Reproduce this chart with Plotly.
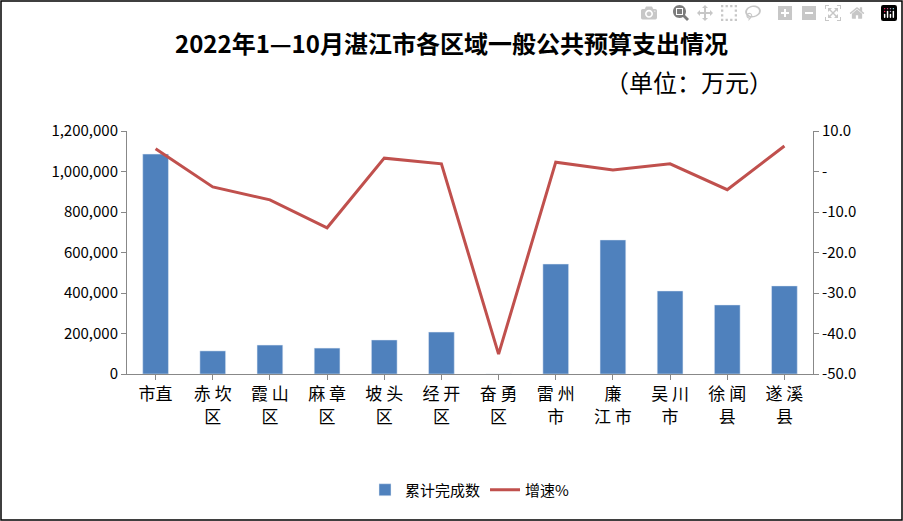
import plotly.graph_objects as go

categories = ["市直", "赤 坎<br>区", "霞 山<br>区", "麻 章<br>区", "坡 头<br>区", "经 开<br>区",
              "奋 勇<br>区", "雷 州<br>市", "廉<br>江 市", "吴 川<br>市", "徐 闻<br>县", "遂 溪<br>县"]
cumulative = [1086000, 114000, 143000, 128000, 168000, 207000, 0, 543000, 662000, 410000, 341000, 435000]
growth = [5.6, -3.8, -7.0, -13.9, 3.3, 1.9, -45.1, 2.3, 0.4, 1.9, -4.5, 6.3]

left_ticks = [0, 200000, 400000, 600000, 800000, 1000000, 1200000]
left_text = ["0", "200,000", "400,000", "600,000", "800,000", "1,000,000", "1,200,000"]
right_ticks = [-50, -40, -30, -20, -10, 0, 10]
right_text = ["-50.0", "-40.0", "-30.0", "-20.0", "-10.0", "-", "10.0"]

font = "Noto Sans CJK SC"
W, H = 903, 521
L, R, T, B = 127, 90, 131, 147
pw, ph = W - L - R, H - T - B

fig = go.Figure()
fig.add_trace(go.Bar(x=categories, y=cumulative, name="累计完成数",
                     marker=dict(color="#4f81bd"), width=0.45))
fig.add_trace(go.Scatter(x=categories, y=growth, name="增速%", yaxis="y2",
                         mode="lines", line=dict(color="#c0504d", width=3)))

fig.update_layout(
    width=W, height=H,
    paper_bgcolor="white", plot_bgcolor="white",
    margin=dict(l=L, r=R, t=T, b=B),
    font=dict(family=font, size=15, color="black"),
    title=dict(text="<b>2022年1—10月湛江市各区域一般公共预算支出情况</b>",
               x=0.5, xanchor="center", y=1 - 45 / H, yanchor="middle",
               font=dict(size=24)),
    xaxis=dict(showline=True, linecolor="#888", ticks="outside", tickcolor="#888",
               tickfont=dict(size=17), tickangle=0),
    yaxis=dict(range=[0, 1200000], tickvals=left_ticks, ticktext=left_text,
               showgrid=False, showline=True, linecolor="#888",
               ticks="outside", tickcolor="#888", tickfont=dict(size=15)),
    yaxis2=dict(range=[-50, 10], tickvals=right_ticks, ticktext=right_text,
                overlaying="y", side="right", showgrid=False, showline=True,
                linecolor="#888", ticks="outside", tickcolor="#888",
                tickfont=dict(size=15)),
    legend=dict(orientation="h", x=0.5, xanchor="center",
                y=-(490 - 374) / ph, yanchor="middle", font=dict(size=15)),
    annotations=[dict(text="（单位：万元）", xref="paper", yref="paper",
                      x=(775 - L) / pw, y=(H - 82 - B) / ph,
                      xanchor="right", yanchor="middle", showarrow=False,
                      font=dict(size=24))],
)
fig.add_shape(type="rect", xref="paper", yref="paper",
              x0=-(L - 1) / pw, x1=1 + (R - 1) / pw, y0=-(B - 1) / ph, y1=1 + (T - 1) / ph,
              line=dict(color="black", width=1.5))
fig.write_html("out.html", post_script="document.body.style.margin='0';")
